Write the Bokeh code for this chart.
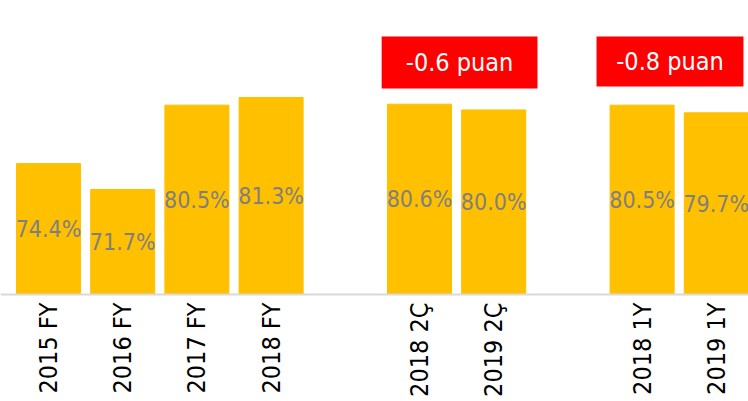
import math
from bokeh.plotting import figure
from bokeh.models import Range1d, ColumnDataSource, Span
from bokeh.core.properties import value
from bokeh.embed import file_html
from bokeh.resources import INLINE

# slots along the x axis; empty strings are gaps between groups
categories = ["2015 FY", "2016 FY", "2017 FY", "2018 FY", "", "2018 2Ç", "2019 2Ç", "", "2018 1Y", "2019 1Y"]
values = [74.4, 71.7, 80.5, 81.3, None, 80.6, 80.0, None, 80.5, 79.7]
value_labels = ["74.4%", "71.7%", "80.5%", "81.3%", "", "80.6%", "80.0%", "", "80.5%", "79.7%"]
change_labels = ["-0.6 puan", "-0.8 puan"]
change_pairs = [("2018 2Ç", "2019 2Ç"), ("2018 1Y", "2019 1Y")]

FONT = "'DejaVu Sans Condensed', Lato"
Y0 = 60.74          # value at the baseline of the bars
PX = 9.583          # pixels per percentage point

idx = [i for i, c in enumerate(categories) if c]
vals = [values[i] for i in idx]
labs = [value_labels[i] for i in idx]
cats = [categories[i] for i in idx]
mids = [(Y0 + v) / 2 for v in vals]

src = ColumnDataSource(dict(x=idx, top=vals, lab=labs, mid=mids, cat=cats))

p = figure(width=748, height=401, output_backend="svg", toolbar_location=None,
           x_range=Range1d(-48 / 74.2, (748 - 48) / 74.2),
           y_range=Range1d(Y0 - 107 / PX, Y0 + 294 / PX),
           min_border_left=0, min_border_right=0, min_border_top=0, min_border_bottom=0)
p.outline_line_color = None
p.grid.visible = False
p.axis.visible = False

p.vbar(x="x", top="top", bottom=Y0, width=0.863, source=src, fill_color="#FFC000", line_color="#FFC000")
p.add_layout(Span(location=Y0, dimension="width", line_color="#D9D9D9", line_width=2))
p.text(x="x", y="mid", text="lab", source=src, text_align="center", text_baseline="middle",
       text_font=value(FONT), text_font_size="23px", text_color="#7F7F7F")

# category labels, rotated, below the baseline
p.text(x="x", y=Y0, text="cat", source=src, angle=math.pi / 2, text_align="right",
       text_baseline="middle", y_offset=8, text_font=value(FONT), text_font_size="25px",
       text_color="black")

# change boxes above each comparison pair
bx, bt = [], []
for (a, b), t in zip(change_pairs, change_labels):
    bx.append((categories.index(a) + categories.index(b)) / 2)
    bt.append(t)
bx[0] += 0.04
bx[1] -= 0.124
bsrc = ColumnDataSource(dict(x=bx, t=bt, w=[2.10, 1.98], h=[5.43, 5.22], y=[84.95, 85.05]))
p.rect(x="x", y="y", width="w", height="h", source=bsrc, fill_color="#FF0000", line_color=None)
p.text(x="x", y="y", text="t", source=bsrc, text_align="center", text_baseline="middle",
       text_font=value(FONT), text_font_size="25px", text_color="white")

open("out.html", "w").write(file_html(p, INLINE))
